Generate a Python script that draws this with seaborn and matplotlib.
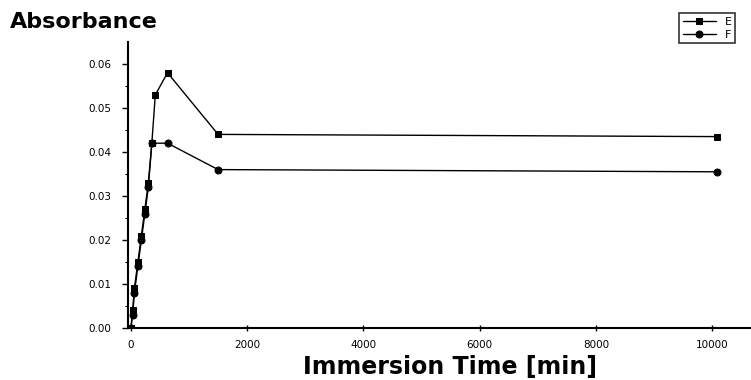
import numpy as np
import pandas as pd
import matplotlib
matplotlib.use("Agg")
import matplotlib.pyplot as plt
import seaborn as sns

# Data
e_time = [0, 30, 60, 120, 180, 240, 300, 360, 420, 630, 1500, 10080]
e_abs = [0.0, 0.004, 0.009, 0.015, 0.021, 0.027, 0.033, 0.042, 0.053, 0.058, 0.044, 0.0435]
f_time = [0, 30, 60, 120, 180, 240, 300, 360, 630, 1500, 10080]
f_abs = [0.0, 0.003, 0.008, 0.014, 0.020, 0.026, 0.032, 0.042, 0.042, 0.036, 0.0355]
series_names = ["E", "F"]
x_ticks = [0, 2000, 4000, 6000, 8000, 10000]
y_ticks = [0.00, 0.01, 0.02, 0.03, 0.04, 0.05, 0.06]

df = pd.concat([
    pd.DataFrame({"time": e_time, "abs": e_abs, "series": series_names[0]}),
    pd.DataFrame({"time": f_time, "abs": f_abs, "series": series_names[1]}),
], ignore_index=True)

sns.set_theme(style="ticks")
plt.rcParams['font.family'] = ['DejaVu Sans']
plt.rcParams['text.color'] = 'black'
plt.rcParams['xtick.color'] = 'black'
plt.rcParams['ytick.color'] = 'black'

fig = plt.figure(figsize=(7.51, 3.80), dpi=100)
ax = fig.add_axes([128/751, 1 - 328/380, (750-128)/751, (328-42)/380])

sns.lineplot(data=df, x="time", y="abs", hue="series", style="series",
             markers={"E": "s", "F": "o"}, dashes=False,
             palette={"E": "black", "F": "black"}, markersize=5,
             markeredgecolor="black", linewidth=1.0, sort=False, ax=ax)

ax.set_xlim(-50, 10650)
ax.set_ylim(0.0, 0.065)
ax.set_xticks(x_ticks)
ax.set_xticklabels([str(t) for t in x_ticks], fontsize=7.5)
ax.set_yticks(y_ticks)
ax.set_yticklabels([f"{t:.2f}" for t in y_ticks], fontsize=7.5)
ax.set_yticks(np.arange(0.005, 0.065, 0.01), minor=True)
ax.tick_params(axis='y', which='major', direction='out', length=4, width=1, pad=8)
ax.tick_params(axis='y', which='minor', direction='out', length=2, width=0.8)
ax.tick_params(axis='x', which='major', direction='inout', length=5, width=1, pad=6)
for side in ["top", "right"]:
    ax.spines[side].set_visible(False)
for side in ["left", "bottom"]:
    ax.spines[side].set_linewidth(1.5)
    ax.spines[side].set_color("black")

ax.set_xlabel("")
ax.set_ylabel("")
fig.text(10/751, 1 - 22/380, "Absorbance", fontsize=16, fontweight="bold",
         va="center", ha="left")
fig.text(450/751, 1 - 367/380, "Immersion Time [min]", fontsize=17,
         fontweight="bold", va="center", ha="center")

leg = ax.legend(title=None, loc="upper right", bbox_to_anchor=(0.985, 1.12),
                fontsize=8, frameon=True, fancybox=False, edgecolor="black",
                handlelength=3, borderpad=0.3, labelspacing=0.3)
leg.get_frame().set_linewidth(1.2)

fig.savefig("out.png", dpi=100)
